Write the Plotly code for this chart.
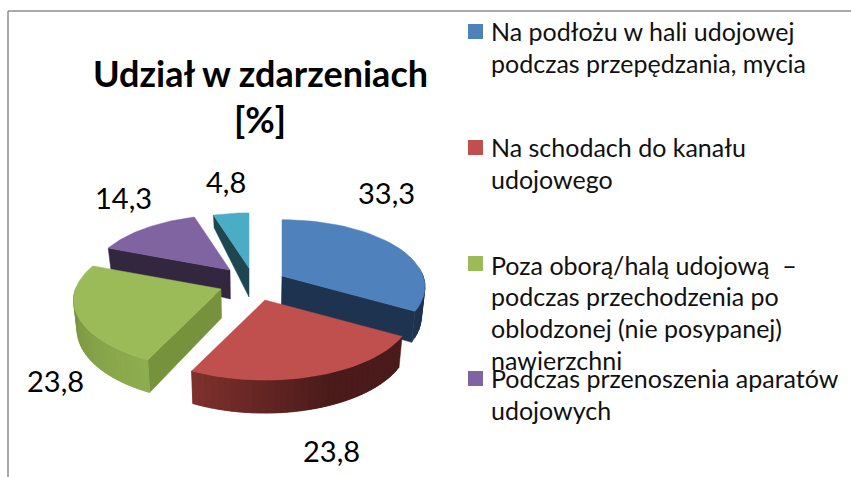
import math
import plotly.graph_objects as go

# --- data ---
categories = [
    "Na podłożu w hali udojowej podczas przepędzania, mycia",
    "Na schodach do kanału udojowego",
    "Poza oborą/halą udojową – podczas przechodzenia po oblodzonej (nie posypanej) nawierzchni",
    "Podczas przenoszenia aparatów udojowych",
    "Inne",
]
values = [33.3, 23.8, 23.8, 14.3, 4.8]

title_lines = ["Udział w zdarzeniach", "[%]"]
legend_lines = [
    ["Na podłożu w hali udojowej", "podczas przepędzania, mycia"],
    ["Na schodach do kanału", "udojowego"],
    ["Poza oborą/halą udojową  –", "podczas przechodzenia po", "oblodzonej (nie posypanej)", "nawierzchni"],
    ["Podczas przenoszenia aparatów", "udojowych"],
]

# --- style / layout ---
top_colors = ["#4f81bd", "#c0504d", "#9bbb59", "#8064a2", "#4bacc6"]
face_colors = ["#1d3350", None, "#76923c", "#33273f", "#1d4650"]
rim_left = ["#1d3350", "#84322f", "#8fae50", "#33273f", "#1d4650"]
rim_right = ["#1d3350", "#4a1b1a", "#6f8a38", "#33273f", "#1d4650"]
apex = [(282, 276), (265, 300), (221, 289), (230, 270), (249, 268)]
wedge_scale = [0.97, 1.0, 1.0, 0.95, 0.95]
face_edge = [-1, None, 0, 0, 0]
label_pos = [(386, 192), (331, 450), (55, 380), (123, 197), (226, 181)]
legend_swatch_y = [31.5, 147.5, 263.5, 378.5]
legend_line_y = [[31, 63], [147, 179], [265, 296, 328, 360], [378, 410]]
FONT = "Lato"
K, C, P = 145.5, 67.3, 0.16


def project(theta, cx, cy, s):
    u, v = math.sin(theta), math.cos(theta)
    d = 1 + P * v
    return cx + s * K * u / d, cy - s * C * v / d, v


def drop(x, y, v):
    depth = 29 - 4 * v if v < 0 else 29 - 17 * v
    return x + (250 - x) * 0.02, y + depth


def hex_mix(a, b, t):
    ca = [int(a[i:i + 2], 16) for i in (1, 3, 5)]
    cb = [int(b[i:i + 2], 16) for i in (1, 3, 5)]
    return "rgb(%d,%d,%d)" % tuple(round(p + (q - p) * t) for p, q in zip(ca, cb))


fig = go.Figure()


def poly(xs, ys, color):
    fig.add_trace(go.Scatter(
        x=list(xs) + [xs[0]], y=list(ys) + [ys[0]], mode="lines", fill="toself",
        fillcolor=color, line=dict(color=color, width=0.5),
        hoverinfo="skip", showlegend=False))


total = sum(values)
angles = []
acc = 0.0
for val in values:
    angles.append((acc / total * 2 * math.pi, (acc + val) / total * 2 * math.pi))
    acc += val

for i in [4, 3, 2, 0, 1]:
    a0, a1 = angles[i]
    cx, cy = apex[i]
    n = 36
    thetas = [a0 + (a1 - a0) * j / n for j in range(n + 1)]
    pts = [project(t, cx, cy, wedge_scale[i]) for t in thetas]
    bx, by = drop(cx, cy, 0)

    # cut face
    if face_colors[i]:
        edge = pts[face_edge[i]]
        ex, ey = drop(*edge)
        poly([cx, edge[0], ex, bx], [cy, edge[1], ey, by], face_colors[i])

    # outer rim: overlapping strips so that no seams show
    if i < 3:
        order = range(n) if i != 1 else range(n - 1, -1, -1)
        for j in order:
            if i == 0 and thetas[j] < math.radians(85):
                continue
            if i == 2 and thetas[j] > math.radians(272):
                continue
            p = pts[j]
            q = pts[min(n, j + 1)] if i != 1 else pts[j + 1]
            r = pts[max(0, j - 1)] if i != 1 else p
            if i == 1:
                t = min(1, (n - j) / (n * 0.6))
                q = pts[min(n, j + 2)]
            elif i == 2:
                t = j / n
                r = pts[max(0, j - 1)]
            else:
                t = 0
            start, end = (p, q) if i == 1 else (r, q)
            sb, eb = drop(*start), drop(*end)
            poly([start[0], end[0], eb[0], sb[0]], [start[1], end[1], eb[1], sb[1]],
                 hex_mix(rim_left[i], rim_right[i], t))

    # top surface
    poly([cx] + [p[0] for p in pts], [cy] + [p[1] for p in pts], top_colors[i])

# legend swatches
fig.add_trace(go.Scatter(
    x=[475.5] * 4, y=legend_swatch_y, mode="markers",
    marker=dict(symbol="square", size=15, color=top_colors[:4], line=dict(width=0)),
    hovertext=categories[:4], hoverinfo="text", showlegend=False))

anns = []
for lines, ys in zip(legend_lines, legend_line_y):
    for s, y in zip(lines, ys):
        anns.append(dict(x=489, y=y, text=s, xanchor="left", yanchor="middle", showarrow=False,
                         font=dict(family=FONT, size=25, color="#111111")))
for s, y in zip(title_lines, [73, 119]):
    anns.append(dict(x=260, y=y, text="<b>%s</b>" % s, xanchor="center", yanchor="middle", showarrow=False,
                     font=dict(family=FONT, size=36, color="#000000")))
for v, (x, y) in zip(values, label_pos):
    anns.append(dict(x=x, y=y, text=f"{v:.1f}".replace(".", ","), xanchor="center", yanchor="middle",
                     showarrow=False, font=dict(family=FONT, size=29, color="#000000")))

shapes = [
    dict(type="line", x0=8, x1=851, y0=11, y1=11, line=dict(color="#8e8e8e", width=1.5)),
    dict(type="line", x0=8, x1=8, y0=11, y1=477, line=dict(color="#8e8e8e", width=1.5)),
]

fig.update_layout(
    width=851, height=477, margin=dict(l=0, r=0, t=0, b=0),
    paper_bgcolor="white", plot_bgcolor="white", showlegend=False,
    xaxis=dict(range=[0, 851], visible=False, fixedrange=True),
    yaxis=dict(range=[477, 0], visible=False, fixedrange=True),
    annotations=anns, shapes=shapes,
)
fig.write_html("out.html", post_script="document.body.style.margin='0';", config={"displayModeBar": False})
